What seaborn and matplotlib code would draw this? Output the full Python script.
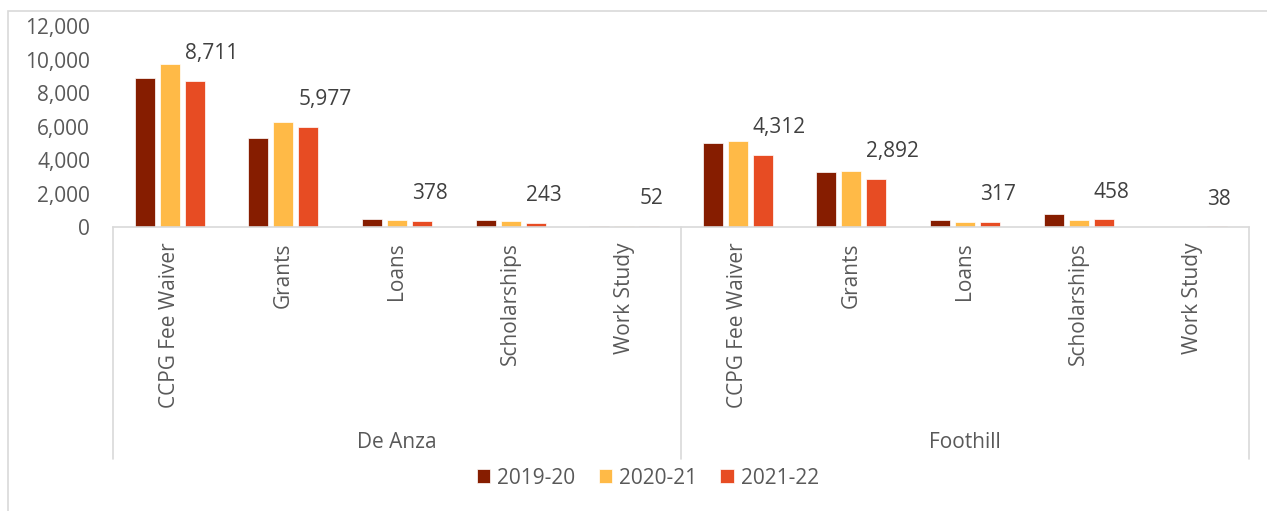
# financial aid recipients by college, aid type and year
# grouped bars with a two-level category axis (college / aid type)

import pandas as pd
import matplotlib
matplotlib.use("Agg")
import matplotlib.pyplot as plt
import matplotlib.transforms as mtransforms
from matplotlib.patches import Rectangle
from matplotlib.ticker import StrMethodFormatter
import seaborn as sns

colleges = ["De Anza", "Foothill"]
aid_types = ["CCPG Fee Waiver", "Grants", "Loans", "Scholarships", "Work Study"]
years = ["2019-20", "2020-21", "2021-22"]

# values, per college, in aid_types order
de_anza_1920 = [8870, 5300, 460, 440, 55]
de_anza_2021 = [9725, 6240, 420, 340, 30]
de_anza_2122 = [8711, 5977, 378, 243, 52]
foothill_1920 = [5020, 3310, 400, 760, 20]
foothill_2021 = [5140, 3370, 280, 400, 15]
foothill_2122 = [4312, 2892, 317, 458, 38]

colors = ["#861D00", "#FFBA47", "#E74C23"]
text_gray = "#595959"
line_gray = "#D9D9D9"

W, H = 1267, 511


def build_frame():
    """Long-form table: one row per bar."""
    series = {
        "De Anza": [de_anza_1920, de_anza_2021, de_anza_2122],
        "Foothill": [foothill_1920, foothill_2021, foothill_2122],
    }
    rows = []
    for college in colleges:
        for year, vals in zip(years, series[college]):
            for aid, v in zip(aid_types, vals):
                rows.append({"slot": f"{college}|{aid}", "college": college,
                             "aid": aid, "year": year, "value": v})
    return pd.DataFrame(rows)


df = build_frame()
order = [f"{c}|{a}" for c in colleges for a in aid_types]

sns.set_style("white")
plt.rcParams["font.family"] = ["Open Sans", "DejaVu Sans"]

fig = plt.figure(figsize=(W / 100, H / 100), dpi=100)
# plot area in pixels: x 113..1249, y 26..227
ax = fig.add_axes([113 / W, 1 - 227 / H, (1249 - 113) / W, (227 - 26) / H])

sns.barplot(data=df, x="slot", y="value", hue="year", order=order,
            hue_order=years, palette=colors, saturation=1, width=0.66, gap=0.2,
            edgecolor="white", linewidth=0.5, ax=ax)

handles, labels = ax.get_legend_handles_labels()
ax.legend_.remove()

ax.set_ylim(0, 12000)
ax.set_xlim(-0.5, len(order) - 0.5)
ax.set_yticks(range(0, 12001, 2000))
ax.yaxis.set_major_formatter(StrMethodFormatter("{x:,.0f}"))
ax.set_xticks(range(len(order)))
ax.set_xticklabels([s.split("|")[1] for s in order], rotation=90, va="top")
ax.tick_params(axis="y", length=0, pad=16.5, labelsize=15, labelcolor=text_gray)
ax.tick_params(axis="x", length=0, pad=11, labelsize=15, labelcolor=text_gray)
ax.set_xlabel("")
ax.set_ylabel("")

for side in ["top", "right", "left"]:
    ax.spines[side].set_visible(False)
ax.spines["bottom"].set_color(line_gray)
ax.spines["bottom"].set_linewidth(1.2)

# data labels only for the latest year
for bar in ax.containers[2]:
    h = bar.get_height()
    ax.annotate(f"{h:,.0f}", (bar.get_x(), h), xytext=(0, 12),
                textcoords="offset points", ha="left", va="bottom",
                fontsize=15, color="#404040")

# second level of the category axis: separators and college names
trans = mtransforms.blended_transform_factory(ax.transData, ax.transAxes)
bottom = -(459 - 227) / (227 - 26)
for x in [-0.5, len(aid_types) - 0.5, len(order) - 0.5]:
    ax.plot([x, x], [0, bottom], transform=trans, color=line_gray,
            lw=1.2, clip_on=False)
label_y = -(442 - 227) / (227 - 26)
for i, college in enumerate(colleges):
    mid = i * len(aid_types) + (len(aid_types) - 1) / 2
    ax.text(mid, label_y, college, transform=trans, ha="center", va="center",
            fontsize=15, color=text_gray)

fig.legend(handles, labels, loc="center", bbox_to_anchor=(648 / W, 1 - 478 / H),
           ncol=3, frameon=False, fontsize=15, labelcolor=text_gray,
           handlelength=0.65, handleheight=0.65, handletextpad=0.35,
           columnspacing=1.1)

# outer chart border
fig.add_artist(Rectangle((8 / W, -0.05), 1.1, 1 - 11 / H + 0.05,
                         transform=fig.transFigure, fill=False,
                         edgecolor=line_gray, lw=1.2))

fig.savefig("out.png", dpi=100)
